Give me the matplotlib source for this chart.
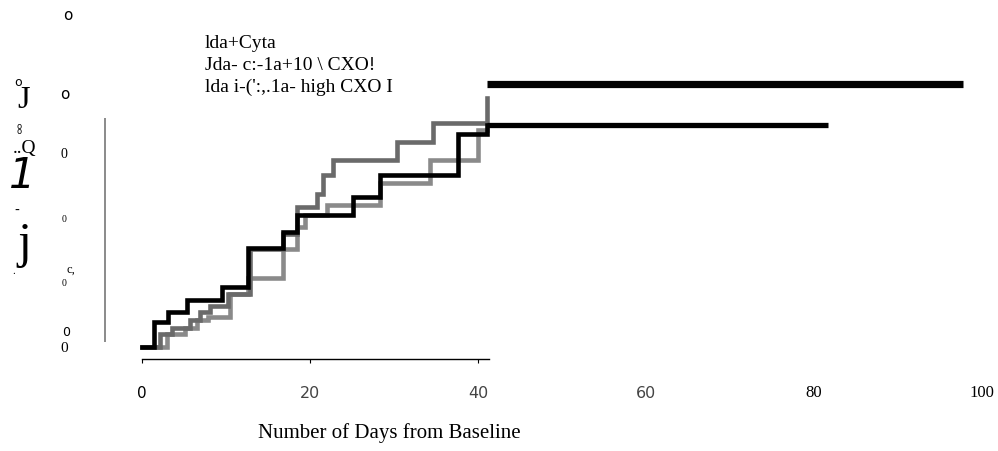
import matplotlib
matplotlib.use("Agg")
import matplotlib.pyplot as plt

# --- data (days, cumulative proportion) ---
black_days = [0, 1.4, 3.1, 5.4, 9.5, 12.6, 16.8, 18.5, 25.1, 28.3, 37.6, 41.1]
black_prob = [0, 0.08, 0.11, 0.15, 0.19, 0.315, 0.365, 0.42, 0.475, 0.545, 0.675, 0.705]
black_tail_end = 81.7

grayA_days = [0, 2.1, 3.6, 5.7, 6.9, 8.1, 10.3, 12.8, 16.8, 18.5, 20.8, 21.5, 22.7, 30.4, 34.6, 41.1]
grayA_prob = [0, 0.04, 0.06, 0.085, 0.11, 0.13, 0.17, 0.31, 0.36, 0.445, 0.485, 0.545, 0.595, 0.65, 0.71, 0.79]

grayB_days = [0, 3.0, 5.1, 6.5, 7.9, 10.5, 12.6, 16.8, 18.5, 19.4, 22.0, 28.3, 34.3, 40.0, 41.1]
grayB_prob = [0, 0.04, 0.06, 0.085, 0.095, 0.17, 0.22, 0.31, 0.38, 0.42, 0.45, 0.52, 0.595, 0.69, 0.69]

top_bar_y = 0.835
top_bar_days = [41.1, 97.7]

legend_lines = ["lda+Cyta", "Jda- c:-1a+10 \\ CXO!", "lda i-(':,.1a- high CXO I"]
xtick_values = [0, 20, 40, 60, 80, 100]
xtick_labels = ["0", "20", "40", "60", "80", "100"]
ytick_labels = ["o", "o", "0", "0", "c,", "0", "0", "0"]
xlabel = "Number of Days from Baseline"

W, H = 998, 451
fig = plt.figure(figsize=(W / 100, H / 100), dpi=100)
ax = fig.add_axes([0, 0, 1, 1])
ax.set_xlim(-16.9, 101.9)
ax.set_ylim(-0.330, 1.102)
for s in ["top", "right", "left"]:
    ax.spines[s].set_visible(False)
ax.spines["bottom"].set_position(("data", -0.038))
ax.spines["bottom"].set_bounds(0, 41.3)
ax.spines["bottom"].set_linewidth(1.0)
ax.set_xticks([0, 20, 40])
ax.set_xticklabels([])
ax.tick_params(axis="x", length=3, width=0.8)
ax.set_yticks([])
ax.patch.set_alpha(0)

# left axis remnant
ax.vlines(-4.4, 0.016, 0.727, color="#777777", lw=1.2)

# curves
ax.step(grayB_days, grayB_prob, where="post", color="#8a8a8a", lw=3.3, solid_joinstyle="miter")
ax.step(grayA_days, grayA_prob, where="post", color="#6a6a6a", lw=3.3, solid_joinstyle="miter")
ax.step(black_days, black_prob, where="post", color="black", lw=3.3, solid_joinstyle="miter")
ax.hlines(black_prob[-1], black_days[-1], black_tail_end, color="black", lw=3.8)
ax.hlines(top_bar_y, top_bar_days[0], top_bar_days[1], color="black", lw=5.2)

# x tick labels (mixed fonts as in scan)
tick_fonts = ["DejaVu Sans", "DejaVu Sans", "DejaVu Sans", "DejaVu Sans", "Liberation Serif", "Liberation Serif"]
tick_cols = ["black", "#444444", "#444444", "#444444", "black", "black"]
tick_sizes = [11, 11.5, 11.5, 11.5, 12, 12]
for v, lab, fnt, c, fs in zip(xtick_values, xtick_labels, tick_fonts, tick_cols, tick_sizes):
    ax.text(v, -0.146, lab, ha="center", va="center", fontsize=fs, family=fnt, color=c)

ax.text(29.5, -0.273, xlabel, ha="center", va="center", fontsize=15, family="Liberation Serif")

# legend text
for i, t in enumerate(legend_lines):
    fig.text(205 / W, 1 - (43 + 22 * i) / H, t, ha="left", va="center",
             fontsize=14, family="Liberation Serif")

# garbled y tick labels, pixel placed
ytick_pos = [(68, 15), (65, 94), (64, 155), (64, 220), (71, 270), (64, 284), (66, 333), (64, 348)]
ytick_fonts = ["DejaVu Sans", "DejaVu Sans", "Liberation Serif", "Liberation Serif",
               "Liberation Serif", "Liberation Serif", "DejaVu Sans", "Liberation Serif"]
ytick_sizes = [11, 11, 10, 7, 9, 7, 9, 11]
for lab, (px, py), fnt, fs in zip(ytick_labels, ytick_pos, ytick_fonts, ytick_sizes):
    fig.text(px / W, 1 - py / H, lab, ha="center", va="center", fontsize=fs, family=fnt)

# garbled y axis title
ylab_bits = [("o", 18, 82, 9, "DejaVu Sans", "normal"),
             ("J", 24, 101, 23, "Liberation Serif", "normal"),
             ("o\no", 19, 129, 6, "DejaVu Sans", "normal"),
             ("..Q", 24, 148, 14, "Liberation Serif", "normal"),
             ("1", 22, 176, 30, "DejaVu Sans", "italic"),
             ("-", 17, 211, 10, "DejaVu Sans", "normal"),
             ("j", 24, 245, 36, "Liberation Serif", "normal"),
             (".", 14, 272, 8, "Liberation Serif", "normal")]
for t, px, py, fs, fnt, st in ylab_bits:
    fig.text(px / W, 1 - py / H, t, ha="center", va="center", fontsize=fs, family=fnt,
             style=st, linespacing=0.55)

fig.savefig("out.png", dpi=100)
